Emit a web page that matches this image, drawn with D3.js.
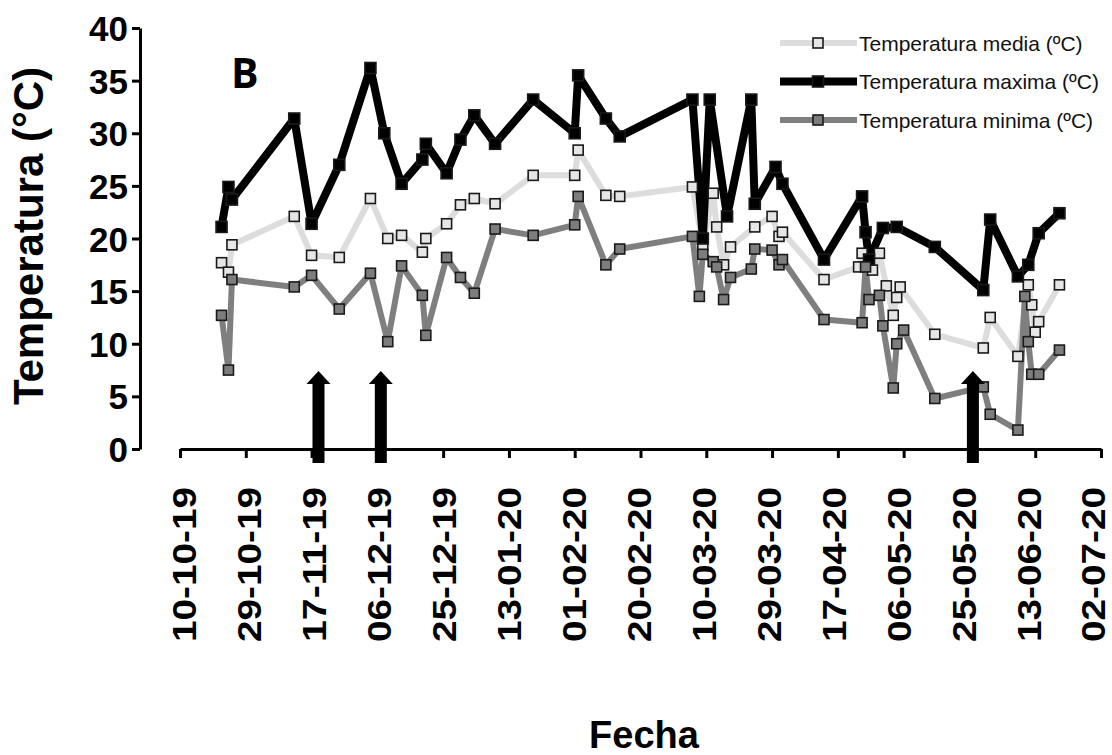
<!DOCTYPE html>
<html>
<head>
<meta charset="utf-8">
<script src="https://cdn.jsdelivr.net/npm/d3@7"></script>
<style>
  body { margin: 0; background: #fff; }
  svg { font-family: Arial, "Liberation Sans", sans-serif; }
</style>
</head>
<body>
<svg id="chart" width="1112" height="755"></svg>
<script>
// dates, one list per series
var maxDates = ["2019-10-22","2019-10-24","2019-10-25","2019-11-12","2019-11-17","2019-11-25","2019-12-04","2019-12-08","2019-12-13","2019-12-19","2019-12-20","2019-12-26","2019-12-30","2020-01-03","2020-01-09","2020-01-20","2020-02-01","2020-02-02","2020-02-10","2020-02-14","2020-03-06","2020-03-09","2020-03-11","2020-03-16","2020-03-23","2020-03-24","2020-03-30","2020-04-01","2020-04-13","2020-04-24","2020-04-25","2020-04-26","2020-04-30","2020-05-04","2020-05-15","2020-05-29","2020-05-31","2020-06-08","2020-06-11","2020-06-14","2020-06-20"];
var maxValues = [21.1,24.9,23.7,31.4,21.4,27.0,36.2,30.0,25.2,27.5,29.0,26.2,29.4,31.7,29.0,33.2,30.0,35.5,31.4,29.7,33.2,20.0,33.2,22.1,33.2,23.3,26.8,25.2,18.0,24.0,20.6,18.0,21.0,21.1,19.2,15.1,21.8,16.4,17.5,20.5,22.4];

var mediaDates = ["2019-10-22","2019-10-24","2019-10-25","2019-11-12","2019-11-17","2019-11-25","2019-12-04","2019-12-09","2019-12-13","2019-12-19","2019-12-20","2019-12-26","2019-12-30","2020-01-03","2020-01-09","2020-01-20","2020-02-01","2020-02-02","2020-02-10","2020-02-14","2020-03-06","2020-03-09","2020-03-12","2020-03-13","2020-03-15","2020-03-17","2020-03-24","2020-03-29","2020-03-31","2020-04-01","2020-04-13","2020-04-23","2020-04-24","2020-04-27","2020-04-29","2020-05-01","2020-05-03","2020-05-04","2020-05-05","2020-05-15","2020-05-29","2020-05-31","2020-06-08","2020-06-11","2020-06-12","2020-06-13","2020-06-14","2020-06-20"];
var mediaValues = [17.7,16.8,19.4,22.1,18.4,18.2,23.8,20.0,20.3,18.7,20.0,21.4,23.2,23.8,23.3,26.0,26.0,28.4,24.1,24.0,24.9,19.4,24.3,21.1,17.5,19.2,21.1,22.1,20.2,20.6,16.1,17.3,18.6,17.0,18.6,15.5,12.7,14.4,15.4,10.9,9.6,12.5,8.8,15.6,13.7,11.1,12.1,15.6];

var minDates = ["2019-10-22","2019-10-24","2019-10-25","2019-11-12","2019-11-17","2019-11-25","2019-12-04","2019-12-09","2019-12-13","2019-12-19","2019-12-20","2019-12-26","2019-12-30","2020-01-03","2020-01-09","2020-01-20","2020-02-01","2020-02-02","2020-02-10","2020-02-14","2020-03-06","2020-03-08","2020-03-09","2020-03-12","2020-03-13","2020-03-15","2020-03-17","2020-03-23","2020-03-24","2020-03-29","2020-03-31","2020-04-01","2020-04-13","2020-04-24","2020-04-25","2020-04-26","2020-04-29","2020-04-30","2020-05-03","2020-05-04","2020-05-06","2020-05-15","2020-05-29","2020-05-31","2020-06-08","2020-06-10","2020-06-11","2020-06-12","2020-06-14","2020-06-20"];
var minValues = [12.7,7.5,16.1,15.4,16.5,13.3,16.7,10.2,17.4,14.6,10.8,18.2,16.3,14.8,20.9,20.3,21.3,24.0,17.5,19.0,20.2,14.5,18.5,17.8,17.3,14.2,16.3,17.1,19.0,18.9,17.5,18.0,12.3,12.0,17.3,14.2,14.6,11.7,5.8,10.0,11.3,4.8,5.9,3.3,1.8,14.5,10.2,7.1,7.1,9.4];

var xTickLabels = ["10-10-19","29-10-19","17-11-19","06-12-19","25-12-19","13-01-20","01-02-20","20-02-20","10-03-20","29-03-20","17-04-20","06-05-20","25-05-20","13-06-20","02-07-20"];
var yTickValues = [0,5,10,15,20,25,30,35,40];
var arrowDates = ["2019-11-19","2019-12-07","2020-05-26"];
var seriesNames = ["Temperatura media (ºC)","Temperatura maxima (ºC)","Temperatura minima (ºC)"];

var font = "Arial, 'Liberation Sans', sans-serif";
var parseISO = d3.timeParse("%Y-%m-%d"),
    parseTick = d3.timeParse("%d-%m-%y");

var svg = d3.select("#chart");

// scales
var x = d3.scaleTime()
    .domain([parseTick(xTickLabels[0]), parseTick(xTickLabels[xTickLabels.length - 1])])
    .range([180, 1101]);
var y = d3.scaleLinear().domain([0, 40]).range([449, 28]);

function pairs(dates, values) {
  return dates.map(function(d, i) { return {date: parseISO(d), value: values[i]}; });
}

var series = [
  {name: seriesNames[0], data: pairs(mediaDates, mediaValues), line: "#dddddd", width: 6, fill: "#e6e6e6", size: 10},
  {name: seriesNames[1], data: pairs(maxDates, maxValues), line: "#000000", width: 8, fill: "#000000", size: 11},
  {name: seriesNames[2], data: pairs(minDates, minValues), line: "#7f7f7f", width: 6, fill: "#7d7d7d", size: 10}
];

var line = d3.line()
    .x(function(d) { return x(d.date); })
    .y(function(d) { return y(d.value); });

// lines first, markers on top
series.forEach(function(s) {
  svg.append("path")
    .datum(s.data)
    .attr("d", line)
    .attr("fill", "none")
    .attr("stroke", s.line)
    .attr("stroke-width", s.width)
    .attr("stroke-linejoin", "bevel");
});
series.forEach(function(s) {
  svg.append("g").selectAll("rect")
    .data(s.data)
  .enter().append("rect")
    .attr("x", function(d) { return x(d.date) - s.size / 2; })
    .attr("y", function(d) { return y(d.value) - s.size / 2; })
    .attr("width", s.size)
    .attr("height", s.size)
    .attr("fill", s.fill)
    .attr("stroke", "#1a1a1a")
    .attr("stroke-width", 1.6);
});

// y axis
var yAxis = svg.append("g")
    .attr("transform", "translate(140,0)")
    .call(d3.axisLeft(y).tickValues(yTickValues).tickSize(8).tickSizeOuter(0).tickPadding(4));
yAxis.attr("font-family", font);
yAxis.select(".domain").attr("stroke-width", 3);
yAxis.selectAll(".tick line").attr("stroke-width", 3);
yAxis.selectAll(".tick text")
    .attr("font-size", 35)
    .attr("font-weight", "bold")
    .attr("fill", "#000")
    .attr("dy", "0.36em");

// x axis, labels turned upright and drifting slightly left like the original
var xAxis = svg.append("g")
    .attr("transform", "translate(0,449)")
    .call(d3.axisBottom(x).tickValues(xTickLabels.map(parseTick)).tickSize(9).tickSizeOuter(0)
      .tickFormat(d3.timeFormat("%d-%m-%y")));
xAxis.attr("font-family", font);
xAxis.select(".domain").attr("stroke-width", 3);
xAxis.selectAll(".tick line").attr("stroke-width", 3);
xAxis.selectAll(".tick text")
    .attr("font-size", 33)
    .attr("font-weight", "bold")
    .attr("fill", "#000")
    .attr("text-anchor", "end")
    .attr("textLength", 155)
    .attr("lengthAdjust", "spacingAndGlyphs")
    .attr("transform", function(d, i) { return "translate(" + (4 - i * 0.85) + ",38) rotate(-90)"; })
    .attr("x", 0)
    .attr("y", 0)
    .attr("dy", "0.36em");

// arrows
svg.append("g").selectAll("path")
    .data(arrowDates.map(parseISO))
  .enter().append("path")
    .attr("fill", "#000")
    .attr("d", function(d) {
      var cx = x(d), top = y(0) - 78, neck = y(0) - 65, bottom = y(0) + 14;
      return "M" + (cx - 6) + "," + bottom + "L" + (cx - 6) + "," + neck +
             "L" + (cx - 12) + "," + neck + "L" + cx + "," + top +
             "L" + (cx + 12) + "," + neck + "L" + (cx + 6) + "," + neck +
             "L" + (cx + 6) + "," + bottom + "Z";
    });

// legend
var legend = svg.append("g").selectAll("g")
    .data(series)
  .enter().append("g")
    .attr("transform", function(d, i) { return "translate(780," + (43 + i * 38.5) + ")"; });
legend.append("line")
    .attr("x1", 0).attr("x2", 77)
    .attr("stroke", function(d) { return d.line; })
    .attr("stroke-width", function(d) { return d.width; });
legend.append("rect")
    .attr("x", function(d) { return 38 - d.size / 2; })
    .attr("y", function(d) { return -d.size / 2; })
    .attr("width", function(d) { return d.size; })
    .attr("height", function(d) { return d.size; })
    .attr("fill", function(d) { return d.fill; })
    .attr("stroke", "#1a1a1a")
    .attr("stroke-width", 1.6);
legend.append("text")
    .attr("x", 79)
    .attr("dy", "0.36em")
    .attr("font-size", 21)
    .attr("fill", "#111")
    .text(function(d) { return d.name; });

// panel letter
svg.append("text")
    .attr("x", 231)
    .attr("y", 88)
    .attr("font-family", "'Open Sans', Arial, sans-serif")
    .attr("font-size", 41)
    .attr("font-weight", "bold")
    .text("B");

// axis titles
svg.append("text")
    .attr("transform", "translate(43,236) rotate(-90)")
    .attr("text-anchor", "middle")
    .attr("font-size", 42)
    .attr("font-weight", "bold")
    .text("Temperatura (°C)");

svg.append("text")
    .attr("x", 644)
    .attr("y", 748)
    .attr("text-anchor", "middle")
    .attr("font-size", 38)
    .attr("font-weight", "bold")
    .text("Fecha");
</script>
</body>
</html>
